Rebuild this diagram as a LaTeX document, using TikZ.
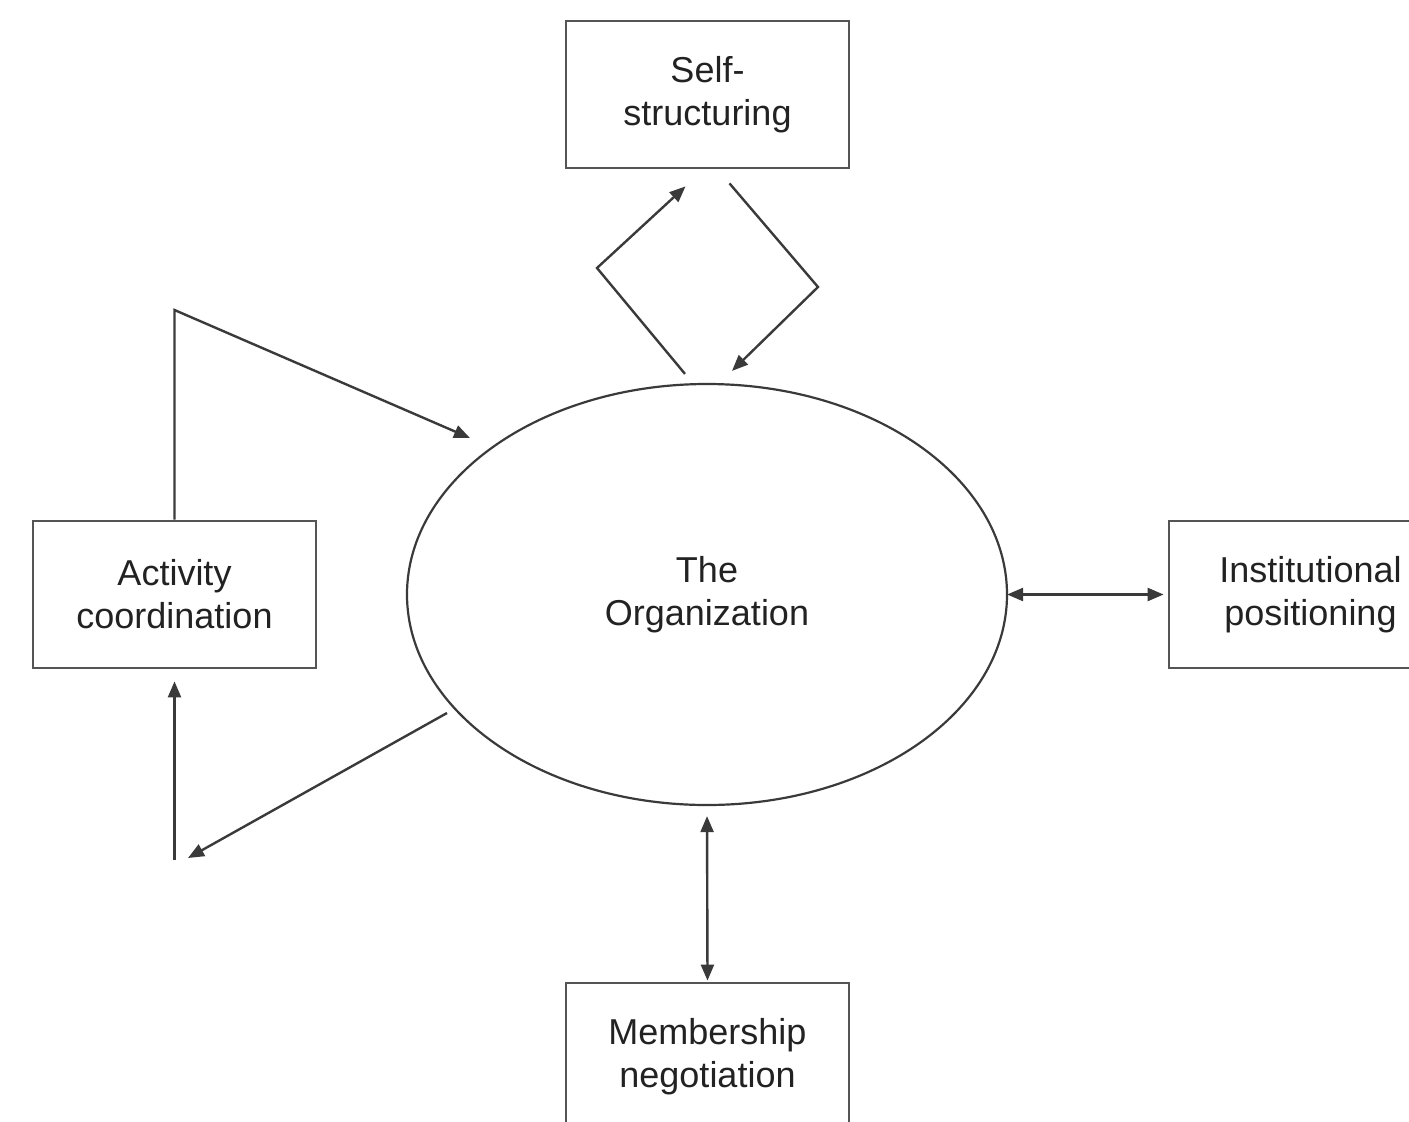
\documentclass[tikz,border=0pt]{standalone}
\usepackage{fontspec}
\setmainfont{Liberation Sans}
\usetikzlibrary{arrows.meta,calc,shapes.geometric}
\definecolor{boxgray}{HTML}{555555}
\definecolor{linegray}{HTML}{3A3A3A}
\definecolor{textgray}{HTML}{222222}
\begin{document}
\begin{tikzpicture}[x=1pt,y=-1pt,
  labelfont/.style={font=\fontsize{36}{43}\selectfont, text=textgray, align=center},
  box/.style={draw=boxgray, line width=2.8pt, minimum width=283pt,
    minimum height=147pt, inner sep=0pt, labelfont},
  orgshape/.style={ellipse, draw=linegray, line width=2.2pt, minimum width=600pt,
    minimum height=421pt, inner sep=0pt, labelfont},
  tip/.tip={Triangle[length=16pt,width=13pt]},
  flow/.style={draw=linegray, line width=2.4pt, line join=miter, -tip},
  link/.style={draw=linegray, line width=2.4pt, tip-tip}]
  \clip (0,0) rectangle (1409,1122);

  % central organisation and the four surrounding processes
  \node[orgshape] (org) at (707,594.5) {The\\Organization};
  \node[box] (self) at (707.5,94.5) {Self-\\structuring};
  \node[box] (act)  at (174.5,594.5) {Activity\\coordination};
  \node[box] (inst) at (1310.5,594.5) {Institutional\\positioning};
  \node[box] (memb) at (707.5,1056.5) {Membership\\negotiation};

  % self-structuring feedback loop
  \coordinate (sl) at (597,268);
  \coordinate (sr) at (818,287);
  \draw[flow] ($(org.north)+(-22,-9)$) -- (sl) -- ($(self.south)+(-22,17)$);
  \draw[flow] ($(self.south)+(22,14)$) -- (sr) -- ($(org.north)+(25,-12)$);

  % activity coordination loop
  \coordinate (ac) at (174.5,310);
  \coordinate (ain) at (470,438);
  \coordinate (aout) at (447,713);
  \coordinate (alow) at (188,858);
  \coordinate (abase) at (174.5,860);
  \draw[flow] (act.north) -- (ac) -- (ain);
  \draw[flow] (aout) -- (alow);
  \draw[flow] (abase) -- ($(act.south)+(0,12)$);

  % two-way links
  \draw[link, shorten <=-1pt, shorten >=4pt] (org.east) -- (inst.west);
  \draw[link, shorten <=10pt, shorten >=1pt] (org.south) -- (memb.north);
\end{tikzpicture}
\end{document}
